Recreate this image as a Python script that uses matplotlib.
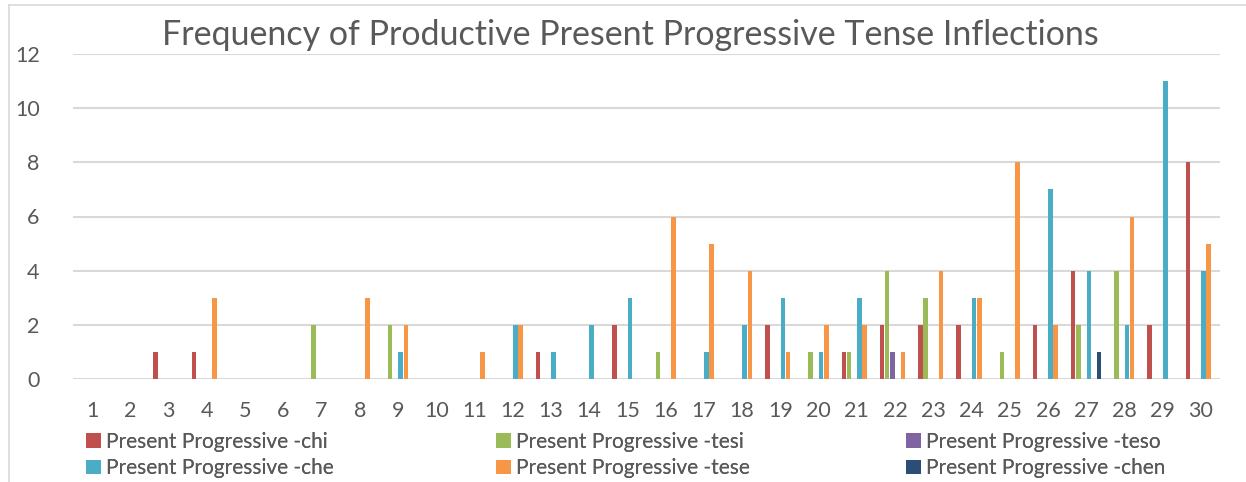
import matplotlib
matplotlib.use("Agg")
import matplotlib.pyplot as plt
from matplotlib.lines import Line2D
from matplotlib.patches import Patch
import numpy as np

plt.rcParams['font.family'] = ['Lato', 'DejaVu Sans']

title = "Frequency of Productive Present Progressive Tense Inflections"
categories = list(range(1, 31))

series_names = [
    "Present Progressive -chi",
    "Present Progressive -tesi",
    "Present Progressive -teso",
    "Present Progressive -che",
    "Present Progressive -tese",
    "Present Progressive -chen",
]
series_colors = ["#C0504D", "#9BBB59", "#8064A2", "#4BACC6", "#F79646", "#2C4D75"]

#            1  2  3  4  5  6  7  8  9 10 11 12 13 14 15 16 17 18 19 20 21 22 23 24 25 26 27 28 29 30
chi_vals  = [0, 0, 1, 1, 0, 0, 0, 0, 0, 0, 0, 0, 1, 0, 2, 0, 0, 0, 2, 0, 1, 2, 2, 2, 0, 2, 4, 0, 2, 8]
tesi_vals = [0, 0, 0, 0, 0, 0, 2, 0, 2, 0, 0, 0, 0, 0, 0, 1, 0, 0, 0, 1, 1, 4, 3, 0, 1, 0, 2, 4, 0, 0]
teso_vals = [0, 0, 0, 0, 0, 0, 0, 0, 0, 0, 0, 0, 0, 0, 0, 0, 0, 0, 0, 0, 0, 1, 0, 0, 0, 0, 0, 0, 0, 0]
che_vals  = [0, 0, 0, 0, 0, 0, 0, 0, 1, 0, 0, 2, 1, 2, 3, 0, 1, 2, 3, 1, 3, 0, 0, 3, 0, 7, 4, 2, 11, 4]
tese_vals = [0, 0, 0, 3, 0, 0, 0, 3, 2, 0, 1, 2, 0, 0, 0, 6, 5, 4, 1, 2, 2, 1, 4, 3, 8, 2, 0, 6, 0, 5]
chen_vals = [0, 0, 0, 0, 0, 0, 0, 0, 0, 0, 0, 0, 0, 0, 0, 0, 0, 0, 0, 0, 0, 0, 0, 0, 0, 0, 1, 0, 0, 0]

all_series = [chi_vals, tesi_vals, teso_vals, che_vals, tese_vals, chen_vals]

W, H = 1246, 482
fig = plt.figure(figsize=(W / 100, H / 100), dpi=100)
ax = fig.add_axes([73 / W, 1 - 379 / H, (1220 - 73) / W, (379 - 54) / H])

text_color = "#595959"
grid_color = "#D9D9D9"

x = np.arange(1, 31)
step = 0.136
bar_w = 0.118
n = len(all_series)
for i, (name, vals, col) in enumerate(zip(series_names, all_series, series_colors)):
    pos = x + (i - (n - 1) / 2) * step
    ax.bar(pos, vals, width=bar_w, color=col, label=name, zorder=3)

ax.set_xlim(0.5, 30.5)
ax.set_ylim(0, 12)
ax.set_yticks(range(0, 13, 2))
ax.set_xticks(x)
ax.set_xticklabels([str(c) for c in categories])
ax.yaxis.grid(True, color=grid_color, linewidth=1.5, zorder=0)
ax.set_axisbelow(True)
for s in ax.spines.values():
    s.set_visible(False)
ax.tick_params(axis="both", length=0, labelsize=15.5, colors=text_color)
ax.tick_params(axis="y", pad=24)
ax.tick_params(axis="x", pad=16)

fig.text(630 / W, 1 - 35 / H, title, ha="center", va="center",
         fontsize=24.5, color=text_color)

# legend: three columns of two entries each
handles = [Patch(facecolor=c) for c in series_colors]
col_x = [86, 496, 906]
for c, left in enumerate(col_x):
    idx = [c, c + 3]
    leg = fig.legend([handles[k] for k in idx], [series_names[k] for k in idx],
                     ncol=1, loc="center left", bbox_to_anchor=(left / W, 1 - 455 / H),
                     frameon=False, fontsize=15, labelcolor=text_color,
                     handlelength=0.7, handleheight=0.7, handletextpad=0.25,
                     labelspacing=0.3, borderpad=0, borderaxespad=0)
    fig.add_artist(leg)

# chart border
fig.add_artist(Line2D([9 / W, 9 / W], [0, 1 - 5 / H], color=grid_color, lw=1.2))
fig.add_artist(Line2D([9 / W, 1], [1 - 5 / H, 1 - 5 / H], color=grid_color, lw=1.2))

fig.savefig("out.png", dpi=100)
